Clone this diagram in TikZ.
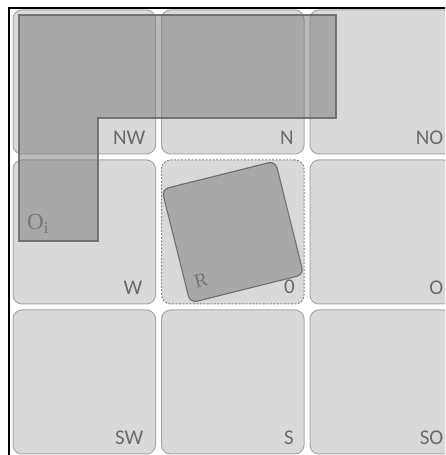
\documentclass[tikz,border=0pt]{standalone}
\usepackage{fontspec}
\setmainfont{Liberation Serif}
\setsansfont{Carlito}
\usepackage{tikz}
\usetikzlibrary{positioning,calc}
\definecolor{cellfill}{HTML}{D9D9D9}
\definecolor{celldraw}{HTML}{A8A8A8}
\definecolor{objfill}{HTML}{797979}
\definecolor{objdraw}{HTML}{666666}
\definecolor{lblgray}{HTML}{6A6A6A}
\definecolor{objgray}{HTML}{777777}
\tikzset{
  cell/.style={draw=celldraw, fill=cellfill, line width=1pt, rounded corners=9pt,
               minimum width=142.5pt, minimum height=144pt, outer sep=0pt, inner sep=0pt},
  center/.style={cell, dashed, dash pattern=on 2pt off 1.5pt, draw=celldraw!80!black},
  obj/.style={draw=objdraw, line width=1.2pt, draw opacity=0.85, fill=objfill, fill opacity=0.5},
  dirlbl/.style={font=\sffamily\fontsize{21}{21}\selectfont, text=lblgray, inner sep=0pt, anchor=base east},
  objlbl/.style={font=\fontsize{#1}{#1}\selectfont, text=objgray, inner sep=0pt}
}

\begin{document}
\begin{tikzpicture}[x=1pt, y=1pt, node distance=6pt and 6pt]
  \useasboundingbox (0,0) rectangle (445,455);
  \clip (0,0) rectangle (445,455);
  \fill[white] (0,0) rectangle (445,455);
  % frame, cut by the page
  \draw[black, line width=1.2pt] (9,-20) rectangle (470,447);

  % the nine cells
  \node[cell] (nw) at (84.25,373) {};
  \node[cell, right=of nw] (n) {};
  \node[cell, right=of n] (no) {};
  \node[cell, below=of nw] (w) {};
  \node[center, below=of n] (c) {};
  \node[cell, below=of no] (o) {};
  \node[cell, below=of w] (sw) {};
  \node[cell, below=of c] (s) {};
  \node[cell, below=of o] (so) {};

  \node[dirlbl] at ($(nw.south east)+(-10,9)$) {NW};
  \node[dirlbl] at ($(n.south east)+(-10,9)$) {N};
  \node[dirlbl] at ($(no.south east)+(-9,9)$) {NO};
  \node[dirlbl] at ($(w.south east)+(-13,9)$) {W};
  \node[dirlbl] at ($(c.south east)+(-9,10)$) {0};
  \node[dirlbl] at ($(o.south east)+(-9,9)$) {O};
  \node[dirlbl] at ($(sw.south east)+(-12,9)$) {SW};
  \node[dirlbl] at ($(s.south east)+(-10,9)$) {S};
  \node[dirlbl] at ($(so.south east)+(-9,9)$) {SO};

  % object O_i
  \draw[obj] (19,440) -- (336,440) -- (336,337) -- (98,337) -- (98,214) -- (19,214) -- cycle;
  \node[objlbl=23, anchor=base west] (oi) at (27,225) {O\textsubscript{i}};

  % object R, turned
  \node[obj, rounded corners=7pt, minimum size=117pt, rotate=14] (r) at (c.center) {};
  \node[objlbl=20, rotate=14] (rl) at (201,174) {R};
\end{tikzpicture}
\end{document}
